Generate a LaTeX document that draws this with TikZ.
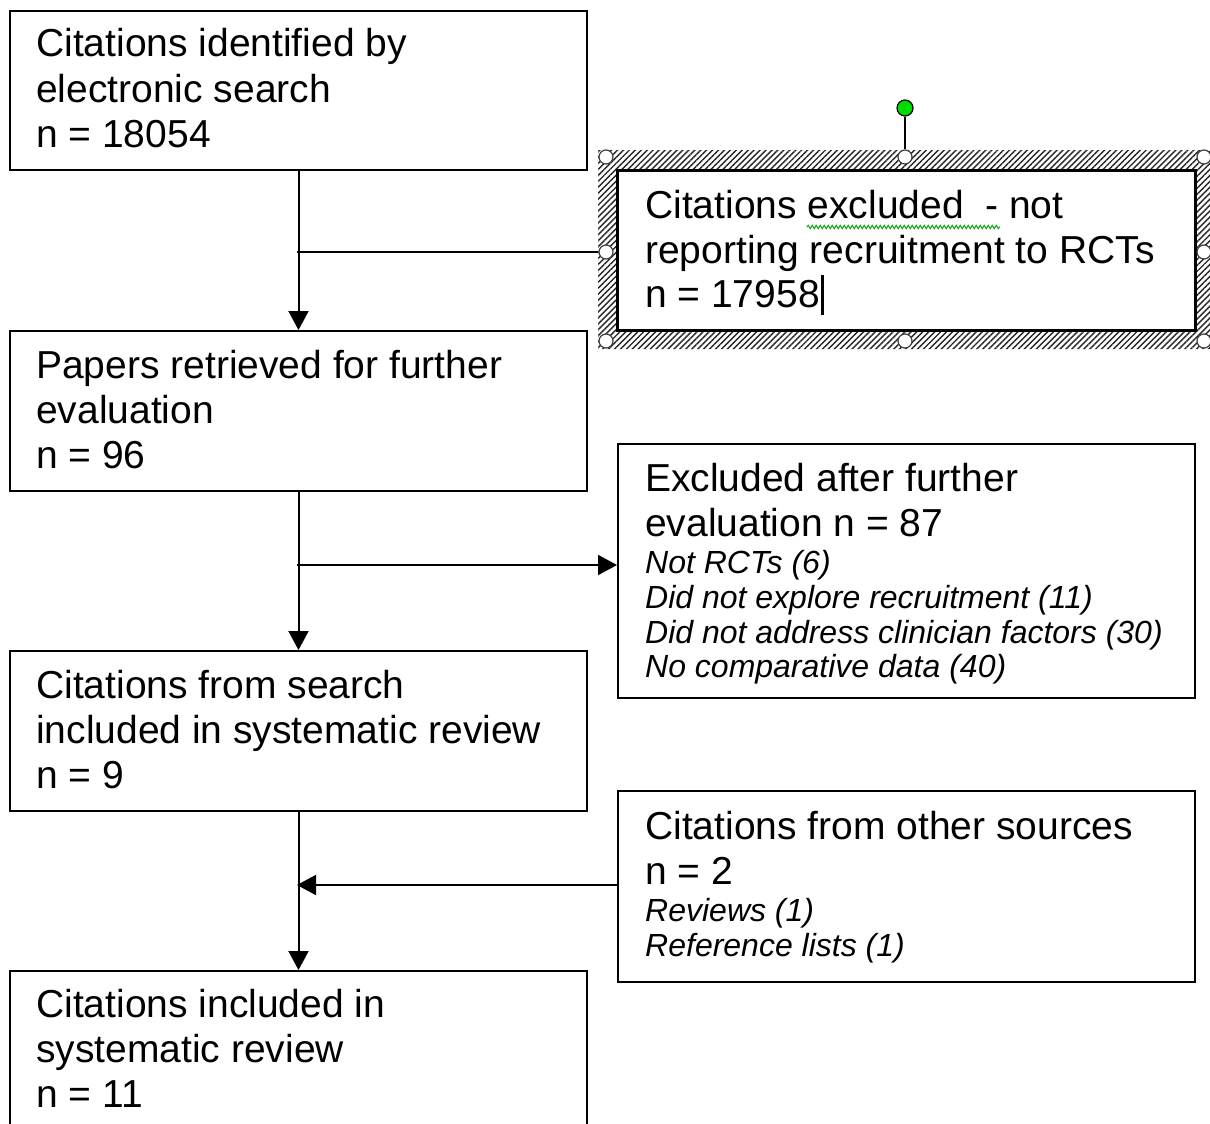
\documentclass[tikz,border=0pt]{standalone}
\usepackage{fontspec}
\setmainfont{Liberation Sans}
\usetikzlibrary{arrows.meta,patterns.meta,decorations.pathmorphing}
\newcommand\mtxt{\fontsize{39}{45}\selectfont}
\newcommand\itxt{\fontsize{32}{35}\selectfont\itshape}
\definecolor{spellgreen}{RGB}{40,170,40}
\definecolor{rotgreen}{RGB}{0,220,0}
\begin{document}
\begin{tikzpicture}[x=1pt,y=-1pt,
  box/.style={draw=black, line width=2pt, fill=white, anchor=north west, inner sep=0pt, minimum width=577pt},
  mt/.style={font=\mtxt, anchor=base west, inner sep=0pt},
  it/.style={font=\itxt, anchor=base west, inner sep=0pt},
  conn/.style={line width=2pt, -{Triangle[length=19pt,width=20pt]}},
  handle/.style={circle, draw=black!75, fill=white, line width=1.2pt, minimum size=14pt, inner sep=0pt},
  hatchband/.style={even odd rule, pattern={Lines[angle=45,distance=4.2pt,line width=1.4pt]}, pattern color=black!85}
]
\useasboundingbox (0,0) rectangle (1210,1124);
\clip (0,0) rectangle (1210,1124);
\fill[white] (0,0) rectangle (1210,1124);

% boxes
\node[box, minimum height=159pt] (b1) at (9,10) {};
\node[box, minimum height=160pt] (b2) at (9,330) {};
\node[box, minimum height=160pt] (b3) at (9,650) {};
\node[box, minimum height=200pt] (b4) at (9,970) {};
\node[box, minimum height=159pt] (r1) at (617,170) {};
\node[box, minimum height=254pt] (r2) at (617,443) {};
\node[box, minimum height=191pt] (r3) at (617,790) {};

% connectors
\coordinate (j1) at (297,252);
\coordinate (j2) at (297,565);
\coordinate (j3) at (297,885);
\draw[conn] (b1.south) -- (b2.north);
\draw[conn] (b2.south) -- (b3.north);
\draw[conn] (b3.south) -- (b4.north);
\draw[conn] (j1) -- (j1 -| r1.west);
\draw[conn] (j2) -- (j2 -| r2.west);
\draw[conn] (j3 -| r3.west) -- (j3);

% selection frame around r1
\fill[white, even odd rule] (598,150) rectangle (1216,349) (r1.north west) rectangle (r1.south east);
\fill[hatchband] (598,150) rectangle (1216,349) (r1.north west) rectangle (r1.south east);
\draw[line width=2pt] (r1.north west) rectangle (r1.south east);

% texts
\node[mt] (t11) at (36,57) {Citations identified by};
\node[mt] (t12) at (36,102) {electronic search};
\node[mt] (t13) at (36,147) {n = 18054};
\node[mt] (t21) at (36,378) {Papers retrieved for further};
\node[mt] (t22) at (36,423) {evaluation};
\node[mt] (t23) at (36,468) {n = 96};
\node[mt] (t31) at (36,698) {Citations from search};
\node[mt] (t32) at (36,743) {included in systematic review};
\node[mt] (t33) at (36,788) {n = 9};
\node[mt] (t41) at (36,1017) {Citations included in};
\node[mt] (t42) at (36,1062) {systematic review};
\node[mt] (t43) at (36,1107) {n = 11};

\node[mt] (u11) at (645,218) {Citations excluded\ \ - not};
\node[mt] (u12) at (645,263) {reporting recruitment to RCTs};
\node[mt] (u13) at (645,307) {n = 17958};
\node[mt] (u21) at (645,491) {Excluded after further};
\node[mt] (u22) at (645,536) {evaluation n = 87};
\node[it] (u23) at (645,573) {Not RCTs (6)};
\node[it] (u24) at (645,608) {Did not explore recruitment (11)};
\node[it] (u25) at (645,643) {Did not address clinician factors (30)};
\node[it] (u26) at (645,677) {No comparative data (40)};
\node[mt] (u31) at (645,839) {Citations from other sources};
\node[mt] (u32) at (645,884) {n = 2};
\node[it] (u33) at (645,921) {Reviews (1)};
\node[it] (u34) at (645,956) {Reference lists (1)};

% spell-check underline and text cursor
\draw[spellgreen, line width=1.2pt, decorate, decoration={snake, amplitude=1.6pt, segment length=4pt}] (807,227) -- (1000,227);
\draw[line width=3pt] ([xshift=3pt]u13.base east) ++(0,8) -- ++(0,-40);

% handles
\node[handle] (h1) at (606,157) {};
\node[handle] (h2) at (905,157) {};
\node[handle] (h3) at (1204,157) {};
\node[handle] (h4) at (606,252) {};
\node[handle] (h5) at (1204,252) {};
\node[handle] (h6) at (606,341) {};
\node[handle] (h7) at (905,341) {};
\node[handle] (h8) at (1204,341) {};
\node[circle, draw=black, fill=rotgreen, line width=1.2pt, minimum size=16pt, inner sep=0pt] (rot) at (905,108) {};
\draw[line width=1.5pt] (rot.south) -- (h2.north);
\end{tikzpicture}
\end{document}
